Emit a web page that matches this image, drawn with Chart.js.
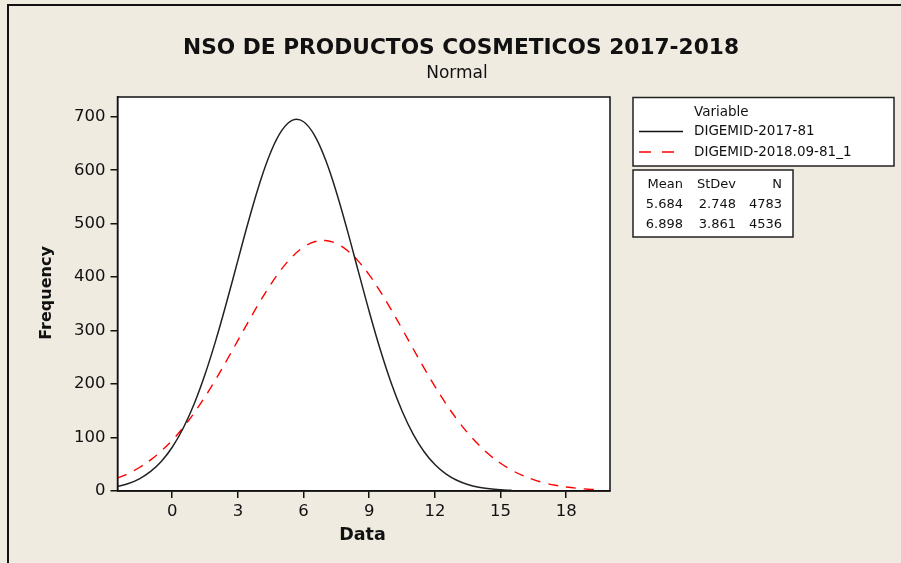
<!DOCTYPE html>
<html>
<head>
<meta charset="utf-8">
<script src="https://cdn.jsdelivr.net/npm/chart.js@4.4.1/dist/chart.umd.min.js"></script>
<style>
html,body{margin:0;padding:0;background:#EFEBE1;}
canvas{display:block;}
</style>
</head>
<body>
<canvas id="c" width="901" height="563"></canvas>
<script>
// ---- data ----
const titleText = "NSO DE PRODUCTOS COSMETICOS 2017-2018";
const subtitleText = "Normal";
const xLabel = "Data";
const yLabel = "Frequency";
const dataX = [-2.5,-2,-1.5,-1,-0.5,0,0.5,1,1.5,2,2.5,3,3.5,4,4.5,5,5.5,6,6.5,7,7.5,8,8.5,9,9.5,10,10.5,11,11.5,12,12.5,13,13.5,14,14.5,15,15.5,16,16.5,17,17.5,18,18.5,19,19.5];
const series2017 = [8.2,13.9,22.8,36.1,55.3,81.9,117.4,162.6,218.2,283.1,355.3,431.5,507.0,576.3,633.7,674.1,693.7,690.7,665.3,620.0,558.9,487.5,411.3,335.7,265.1,202.5,149.7,107.0,74.0,49.6,32.1,20.1,12.2,7.1,4.0,2.2,1.2,null,null,null,null,null,null,null,null];
const series2018 = [24.2,32.9,44.0,57.8,74.8,95.0,118.7,146.0,176.4,209.6,245.0,281.6,318.2,353.6,386.5,415.4,439.0,456.2,466.2,468.5,463.0,450.0,430.0,404.2,373.5,339.4,303.4,266.6,230.4,195.8,163.6,134.4,108.6,86.3,67.5,51.9,39.2,29.1,21.3,15.3,10.8,7.5,5.1,3.4,2.3];
const seriesNames = ["DIGEMID-2017-81", "DIGEMID-2018.09-81_1"];
const legendTitle = "Variable";
const statHeaders = ["Mean", "StDev", "N"];
const statRows = [["5.684", "2.748", "4783"], ["6.898", "3.861", "4536"]];
const xTicks = [0, 3, 6, 9, 12, 15, 18];
const yTicks = [0, 100, 200, 300, 400, 500, 600, 700];

const BG = '#EFEBE1';
const FONT = "'DejaVu Sans', Verdana, sans-serif";

function pts(ys){ return dataX.map((x,i)=>({x:x, y:ys[i]})); }

const decor = {
  id: 'decor',
  beforeDraw(chart){
    const ctx = chart.ctx, a = chart.chartArea;
    ctx.save();
    ctx.fillStyle = BG;
    ctx.fillRect(0,0,chart.width,chart.height);
    ctx.fillStyle = '#fff';
    ctx.fillRect(a.left, a.top, a.right-a.left, a.bottom-a.top);
    ctx.strokeStyle = '#111';
    ctx.lineWidth = 2;
    ctx.beginPath();
    ctx.moveTo(8, 563); ctx.lineTo(8, 5); ctx.lineTo(901, 5);
    ctx.stroke();
    ctx.restore();
  },
  afterDraw(chart){
    const ctx = chart.ctx, a = chart.chartArea;
    ctx.save();
    ctx.strokeStyle = '#111';
    ctx.lineWidth = 1.5;
    ctx.strokeRect(a.left, a.top, a.right-a.left, a.bottom-a.top);

    // title
    ctx.fillStyle = '#111';
    ctx.textAlign = 'center';
    ctx.textBaseline = 'alphabetic';
    ctx.font = "bold 22px " + FONT;
    const tw = ctx.measureText(titleText).width;
    const target = 556;
    ctx.save();
    ctx.translate(461, 54);
    ctx.scale(target/tw, 1);
    ctx.fillText(titleText, 0, 0);
    ctx.restore();
    ctx.font = "17px " + FONT;
    ctx.fillText(subtitleText, 457, 78);

    // axis titles
    ctx.font = "bold 17.5px " + FONT;
    ctx.textBaseline = 'middle';
    ctx.fillText(xLabel, 362.5, 535);
    ctx.save();
    ctx.translate(47, 293);
    ctx.rotate(-Math.PI/2);
    ctx.font = "bold 16px " + FONT;
    ctx.fillText(yLabel, 0, 0);
    ctx.restore();

    // legend box
    ctx.fillStyle = '#fff';
    ctx.fillRect(633, 97.5, 261, 68.5);
    ctx.strokeStyle = '#222';
    ctx.lineWidth = 1.5;
    ctx.strokeRect(633, 97.5, 261, 68.5);
    ctx.fillStyle = '#111';
    ctx.textAlign = 'left';
    ctx.textBaseline = 'middle';
    ctx.font = "13.5px " + FONT;
    ctx.fillText(legendTitle, 694, 112);
    ctx.fillText(seriesNames[0], 694, 131.5);
    ctx.fillText(seriesNames[1], 694, 152);
    ctx.lineWidth = 1.5;
    ctx.strokeStyle = '#111';
    ctx.beginPath(); ctx.moveTo(639, 131.5); ctx.lineTo(683, 131.5); ctx.stroke();
    ctx.strokeStyle = '#ff0000';
    ctx.setLineDash([12, 11]);
    ctx.beginPath(); ctx.moveTo(639, 152); ctx.lineTo(683, 152); ctx.stroke();
    ctx.setLineDash([]);

    // stats box
    ctx.fillStyle = '#fff';
    ctx.fillRect(633, 170, 160, 67);
    ctx.strokeStyle = '#222';
    ctx.strokeRect(633, 170, 160, 67);
    ctx.fillStyle = '#111';
    ctx.font = "13px " + FONT;
    ctx.textAlign = 'right';
    const colR = [683, 736, 782];
    statHeaders.forEach((h,i)=>ctx.fillText(h, colR[i], 185));
    statRows.forEach((r,j)=>r.forEach((v,i)=>ctx.fillText(v, colR[i], 205 + j*20)));
    ctx.restore();
  }
};

new Chart(document.getElementById('c'), {
  type: 'line',
  data: {
    datasets: [
      { label: seriesNames[0], data: pts(series2017), borderColor: '#222', borderWidth: 1.5,
        pointRadius: 0, fill: false, tension: 0.4, spanGaps: false },
      { label: seriesNames[1], data: pts(series2018), borderColor: '#ff0000', borderWidth: 1.4,
        borderDash: [10, 8], pointRadius: 0, fill: false, tension: 0.4 }
    ]
  },
  options: {
    responsive: false,
    animation: false,
    events: [],
    layout: { padding: { left: 0, right: 291, top: 97, bottom: 0 } },
    plugins: { legend: { display: false }, title: { display: false }, tooltip: { enabled: false } },
    scales: {
      x: {
        type: 'linear', min: -2.5, max: 20,
        afterBuildTicks: s => { s.ticks = xTicks.map(v => ({ value: v })); },
        afterFit: s => { s.height = 72; },
        grid: { drawOnChartArea: false, drawTicks: true, tickLength: 7, color: '#111', lineWidth: 1.5 },
        border: { display: true, color: '#111', width: 1.5 },
        ticks: { color: '#111', font: { family: FONT, size: 16.5 }, padding: 4, maxRotation: 0, autoSkip: false }
      },
      y: {
        type: 'linear', min: 0, max: 737,
        afterBuildTicks: s => { s.ticks = yTicks.map(v => ({ value: v })); },
        afterFit: s => { s.width = 117.5; },
        grid: { drawOnChartArea: false, drawTicks: true, tickLength: 7, color: '#111', lineWidth: 1.5 },
        border: { display: true, color: '#111', width: 1.5 },
        ticks: { color: '#111', font: { family: FONT, size: 16.5 }, padding: 5, autoSkip: false }
      }
    }
  },
  plugins: [decor]
});
</script>
</body>
</html>
